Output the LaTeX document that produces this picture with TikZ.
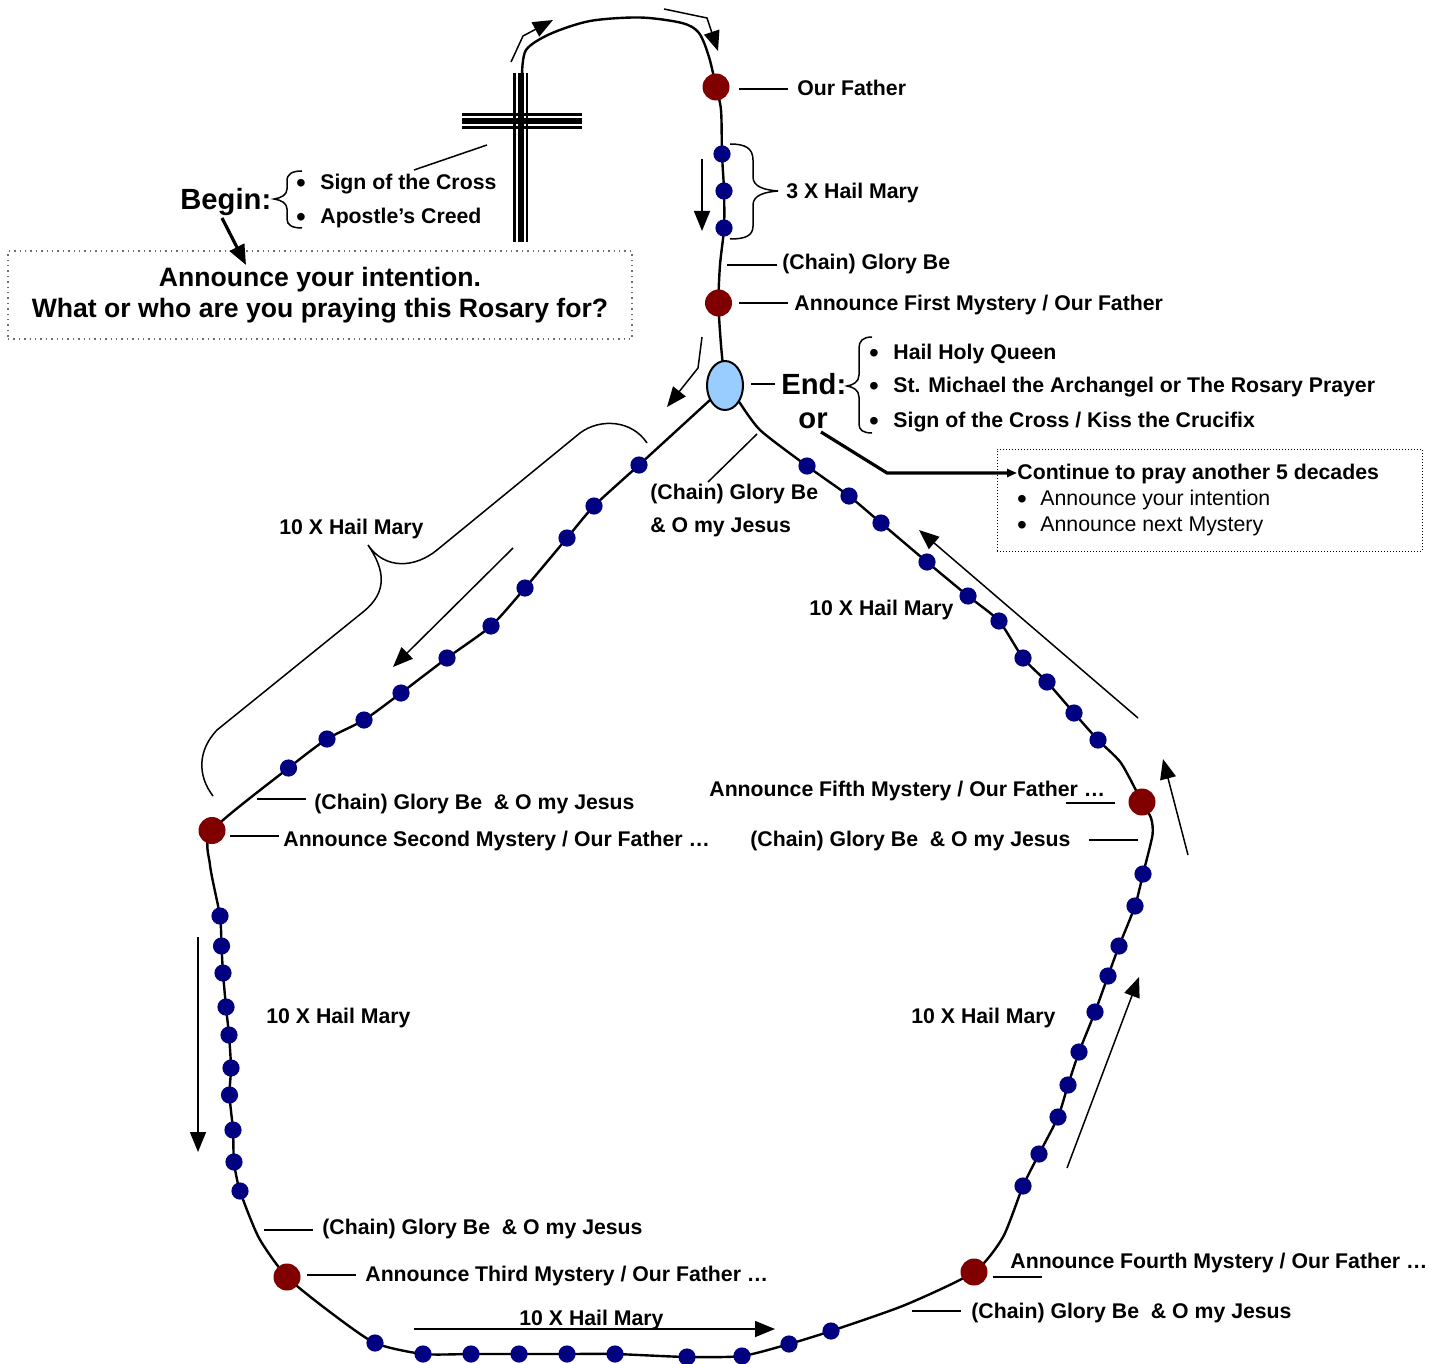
\documentclass[tikz,border=0pt]{standalone}
\usepackage{fontspec}
\setmainfont{Liberation Sans}
\usetikzlibrary{arrows.meta,backgrounds,shapes.geometric}
\newcommand{\labf}{\bfseries\fontsize{10.63}{12}\selectfont}
\newcommand{\bigf}{\bfseries\fontsize{13.3}{15}\selectfont}
\newcommand{\hugf}{\bfseries\fontsize{14.6}{17}\selectfont}
\newcommand{\regf}{\fontsize{10.66}{12}\selectfont}
\newcommand{\bulf}{\fontsize{14}{14}\selectfont}
\tikzset{
  lab/.style={anchor=base west,inner sep=0pt,font=\labf},
  reg/.style={anchor=base west,inner sep=0pt,font=\regf},
  bul/.style={anchor=base,inner sep=0pt,font=\bulf},
  cen/.style={anchor=base,inner sep=0pt,font=\bigf},
  big/.style={anchor=base west,inner sep=0pt,font=\hugf},
  bead/.style={circle,fill=beadblue,inner sep=0pt,minimum size=8.6pt},
  redbead/.style={circle,fill=beadred,inner sep=0pt,minimum size=13.5pt},
  chain/.style={line width=1.2pt,line join=round},
  tick/.style={line width=0.75pt},
  thin arrow/.style={line width=0.75pt,-{Triangle[length=10pt,width=8pt]}},
  brace/.style={line width=0.75pt},
  dotbox/.style={draw,inner sep=0pt}
}
\definecolor{beadblue}{RGB}{0,0,128}
\definecolor{beadred}{RGB}{128,0,0}
\definecolor{ovalblue}{RGB}{153,204,255}
\definecolor{boxgray}{RGB}{110,110,110}
\begin{document}
\begin{tikzpicture}[x=0.5pt,y=-0.5pt]
\useasboundingbox (0,0) rectangle (1439,1364);
% beads
\foreach \n/\x/\y in {t1/722/154,t2/724/191,t3/724/228,
 a1/639/465,a2/594/506,a3/567/538,a4/525/588,a5/491/626,a6/447/658,a7/401/693,a8/364/720,a9/327/739,a10/288.5/768,
 b1/220/916,b2/221.5/946,b3/223/973,b4/226/1007,b5/229/1035,b6/231/1068,b7/229.5/1095,b8/233/1130,b9/234/1162,b10/240/1191,
 c1/375/1343,c2/423/1354,c3/471/1354,c4/519/1354,c5/567/1354,c6/615/1354,c7/687/1357,c8/742/1356,c9/789/1344,c10/831/1331,
 d1/1023/1186,d2/1039/1154,d3/1058/1117,d4/1068/1085,d5/1079/1052,d6/1095/1012,d7/1108/976,d8/1119/946,d9/1135/906,d10/1143/874,
 e1/1098/740,e2/1074/713,e3/1047/682,e4/1023/658,e5/999/621,e6/968/596,e7/927/562,e8/881/523,e9/849/496,e10/807/466}
  \node[bead] (\n) at (\x,\y) {};
\foreach \n/\x/\y in {r1/716/87,r0/718.5/303,r2/212/830.5,r3/287/1277,r4/974/1272,r5/1142/802}
  \node[redbead] (\n) at (\x,\y) {};
\node[ellipse,draw,line width=1pt,fill=ovalblue,inner sep=0pt,minimum width=18pt,minimum height=24.5pt] (oval) at (725,385.5) {};
% way points of the chain
\foreach \n/\x/\y in {w1/522/75,w2/526/50,w3/550/34,w4/590/21,w5/640/17.5,w6/682/23,w7/699/33,w7b/709/57,
  w8/721/110,w9/720/265,w10/721/345,w11/710/400,w12/210/865,w13/259/1238,w14/330/1312,
  w18/905/1305,w19/1003/1237,w20/1152.5/835,w21/1151/818,w22/1121/763,w23/738/400,w24/760/430}
  \coordinate (\n) at (\x,\y);
\begin{pgfonlayer}{background}
\draw[chain] plot[smooth,tension=0.5] coordinates {(w1) (w2) (w3) (w4) (w5) (w6) (w7) (w7b) (r1.center) (w8) (t1.center) (t2.center) (t3.center) (w9) (r0.center) (w10) (oval.center)};
\draw[chain] plot[smooth,tension=0.4] coordinates {(w11) (a1.center) (a2.center) (a3.center) (a4.center) (a5.center) (a6.center) (a7.center) (a8.center) (a9.center) (a10.center) (r2.center) (w12) (b1.center) (b2.center) (b3.center) (b4.center) (b5.center) (b6.center) (b7.center) (b8.center) (b9.center) (b10.center) (w13) (r3.center) (w14) (c1.center) (c2.center) (c3.center) (c4.center) (c5.center) (c6.center) (c7.center) (c8.center) (c9.center) (c10.center) (w18) (r4.center) (w19) (d1.center) (d2.center) (d3.center) (d4.center) (d5.center) (d6.center) (d7.center) (d8.center) (d9.center) (d10.center) (w20) (w21) (r5.center) (w22) (e1.center) (e2.center) (e3.center) (e4.center) (e5.center) (e6.center) (e7.center) (e8.center) (e9.center) (e10.center) (w24) (w23)};
\end{pgfonlayer}
% cross
\foreach \n/\x/\y in {v1a/514.5/73,v1b/514.5/242,v2a/521/73,v2b/521/242,v3a/527/73,v3b/527/242,
  h1a/462/114.5,h1b/582/114.5,h2a/462/121,h2b/582/121,h3a/462/127.5,h3b/582/127.5}
  \coordinate (\n) at (\x,\y);
\draw[line width=1.3pt] (v1a) -- (v1b) (v3a) -- (v3b) (h1a) -- (h1b) (h3a) -- (h3b);
\draw[line width=2.8pt] (v2a) -- (v2b) (h2a) -- (h2b);
% boxes
\node[dotbox,draw=boxgray,dotted,line width=0.7pt,minimum width=312pt,minimum height=44pt] (box1) at (320,295) {};
\node[dotbox,densely dotted,line width=0.5pt,minimum width=212.5pt,minimum height=51pt] (box2) at (1209.5,500) {};
% labels
\node[lab] (ourf) at (797,96) {Our Father};
\node[lab] (three) at (786,198.5) {3 X Hail Mary};
\node[lab] (cg0) at (782,270) {(Chain) Glory Be};
\node[lab] (first) at (794,310) {Announce First Mystery / Our Father};
\node[lab] (sign) at (320,190) {Sign of the Cross};
\node[lab] (apos) at (320,224) {Apostle’s Creed};
\node[bul] (bu1) at (301,193) {•};
\node[bul] (bu2) at (301,227) {•};
\node[big] (begin) at (180,210) {Begin:};
\node[cen] (ann) at (320,286) {Announce your intention.};
\node[cen] (what) at (320,317) {What or who are you praying this Rosary for?};
\node[big] (end) at (781,394) {End:};
\node[big] (or) at (798,428) {or};
\node[lab] (hh) at (893,359) {Hail Holy Queen};
\node[lab] (st) at (893,392) {St. Michael the Archangel or The Rosary Prayer};
\node[lab] (sc) at (893,427) {Sign of the Cross / Kiss the Crucifix};
\node[bul] (bu3) at (874,362) {•};
\node[bul] (bu4) at (874,395) {•};
\node[bul] (bu5) at (874,430) {•};
\node[lab] (cont) at (1017,479) {Continue to pray another 5 decades};
\node[reg] (ai) at (1040,505) {Announce your intention};
\node[reg] (nm) at (1040,531) {Announce next Mystery};
\node[bul] (bu6) at (1022,508) {•};
\node[bul] (bu7) at (1022,534) {•};
\node[lab] (cg1) at (650,499) {(Chain) Glory Be};
\node[lab] (oj1) at (650,532) {\& O my Jesus};
\node[lab] (h1) at (279,534) {10 X Hail Mary};
\node[lab] (h5) at (809,615) {10 X Hail Mary};
\node[lab] (h2) at (266,1023) {10 X Hail Mary};
\node[lab] (h4) at (911,1023) {10 X Hail Mary};
\node[lab] (h3) at (519,1325) {10 X Hail Mary};
\node[lab] (m5) at (709,796) {Announce Fifth Mystery / Our Father …};
\node[lab] (g5) at (750,846) {(Chain) Glory Be\ \ \& O my Jesus};
\node[lab] (g2) at (314,809) {(Chain) Glory Be\ \ \& O my Jesus};
\node[lab] (m2) at (283,846) {Announce Second Mystery / Our Father …};
\node[lab] (g3) at (322,1234) {(Chain) Glory Be\ \ \& O my Jesus};
\node[lab] (m3) at (365,1281) {Announce Third Mystery / Our Father …};
\node[lab] (m4) at (1010,1268) {Announce Fourth Mystery / Our Father …};
\node[lab] (g4) at (971,1318) {(Chain) Glory Be\ \ \& O my Jesus};
% free ends of connectors
\foreach \n/\x/\y in {k1a/739/89,k1b/788/89,k2a/727/265,k2b/777/265,k3a/739/303,k3b/788/303,k4a/751/384,k4b/775/384,
  k5a/757/434,k5b/708/482,k6a/487/145,k6b/414/170,k7a/257/799,k7b/306/799,k8a/230/836,k8b/279/836,
  k9a/264/1230,k9b/313/1230,k10a/307/1275,k10b/356/1275,k11a/993/1277,k11b/1042/1277,k12a/912/1311,k12b/961/1311,
  k13a/1066/803,k13b/1115/803,k14a/1089/840,k14b/1138/840,
  p1a/222/218,p1b/246/265,p2a/821/432,p2b/887/473,p2c/1017/473,p3a/702/337,p3b/698/368,p3c/667/407,
  p4a/702/159,p4b/702/231,p5a/511/62,p5b/523/36,p5c/553/20,p6a/664/9,p6b/707/18,p6c/718/51,
  p7a/513/548,p7b/393/667,p8a/198/937,p8b/198/1152,p9a/414/1329,p9b/775/1329,
  p10a/1067/1168,p10b/1139/977,p11a/1188/855,p11b/1163/759,p12a/1138/718,p12b/919/530}
  \coordinate (\n) at (\x,\y);
\foreach \a/\b in {k1a/k1b,k2a/k2b,k3a/k3b,k4a/k4b,k5a/k5b,k6a/k6b,k7a/k7b,k8a/k8b,k9a/k9b,k10a/k10b,k11a/k11b,k12a/k12b,k13a/k13b,k14a/k14b}
  \draw[tick] (\a) -- (\b);
% arrows
\draw[line width=1.6pt,-{Triangle[length=10pt,width=8pt]}] (p1a) -- (p1b);
\draw[line width=1.6pt,-{Triangle[length=5pt,width=4pt]}] (p2a) -- (p2b) -- (p2c);
\draw[thin arrow] (p3a) -- (p3b) -- (p3c);
\draw[thin arrow] (p4a) -- (p4b);
\draw[thin arrow] (p5a) -- (p5b) -- (p5c);
\draw[thin arrow] (p6a) -- (p6b) -- (p6c);
\draw[thin arrow] (p7a) -- (p7b);
\draw[thin arrow] (p8a) -- (p8b);
\draw[thin arrow] (p9a) -- (p9b);
\draw[thin arrow] (p10a) -- (p10b);
\draw[thin arrow] (p11a) -- (p11b);
\draw[thin arrow] (p12a) -- (p12b);
% braces
\draw[brace] (647,443) .. controls (632,420) and (600,418) .. (580,433) -- (437,550) .. controls (415,568) and (385,570) .. (368,545) .. controls (385,570) and (388,592) .. (363,612) -- (217,730) .. controls (198,750) and (197,775) .. (213,796);
\draw[brace] (730,144) .. controls (745,144) and (753,148) .. (753,160) -- (753,177) .. controls (753,187) and (765,190) .. (778,191) .. controls (765,192) and (753,195) .. (753,205) -- (753,226) .. controls (753,236) and (745,239) .. (730,239);
\draw[brace] (302,171) .. controls (292,171) and (287,174) .. (287,181) -- (287,189) .. controls (287,195) and (281,198) .. (274,199) .. controls (281,200) and (287,203) .. (287,209) -- (287,219) .. controls (287,225) and (292,228) .. (302,228);
\draw[brace] (872,337) .. controls (863,337) and (859,341) .. (859,348) -- (859,375) .. controls (859,382) and (853,385) .. (847,386) .. controls (853,387) and (859,390) .. (859,397) -- (859,424) .. controls (859,430) and (863,433) .. (872,433);
\end{tikzpicture}
\end{document}
